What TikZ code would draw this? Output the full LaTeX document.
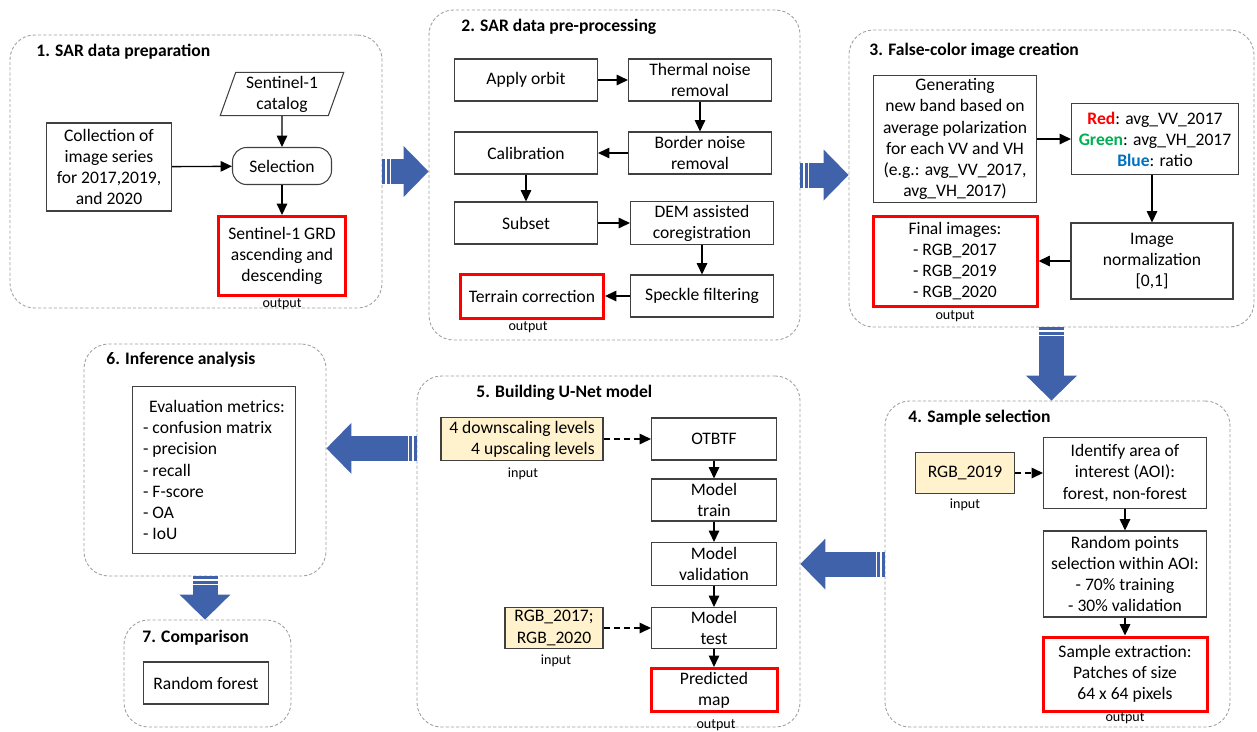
\documentclass[tikz,border=0pt]{standalone}
\usepackage{fontspec}
\setmainfont{Carlito}
\usepackage{tikz}
\usetikzlibrary{arrows.meta}
\usetikzlibrary{calc}
\usetikzlibrary{shapes.geometric}
\usetikzlibrary{decorations.markings}
\definecolor{arrowblue}{RGB}{64,98,170}
\definecolor{inputfill}{RGB}{255,242,204}
\definecolor{panelgray}{RGB}{160,160,160}
\definecolor{boxgray}{RGB}{64,64,64}
\definecolor{rgbgreen}{RGB}{0,176,80}
\definecolor{rgbblue}{RGB}{0,112,192}
\tikzset{
	sz/.style 2 args={minimum width=#1*0.02cm,minimum height=#2*0.02cm}
}
\tikzset{
	panel/.style={draw=panelgray,dash pattern=on 1.8pt off 1.2pt,line width=0.5pt,rounded corners=14pt}
}
\tikzset{
	box/.style={draw=boxgray,line width=0.6pt,align=center,inner sep=2pt,font=\fontsize{10}{12}\selectfont}
}
\tikzset{
	outbox/.style={box,draw=red,line width=1.7pt}
}
\tikzset{
	inbox/.style={box,fill=inputfill}
}
\tikzset{
	title/.style={anchor=west,inner sep=0pt,font=\bfseries\fontsize{10}{12}\selectfont}
}
\tikzset{
	note/.style={inner sep=0pt,font=\fontsize{8}{9}\selectfont}
}
\tikzset{
	flow/.style={line width=0.75pt,-{Triangle[length=6.5pt,width=6pt]}}
}
\tikzset{
	bigarrow/.style={draw=arrowblue,line width=0.5cm,-{Triangle[length=0.5cm,width=1.02cm,line width=0pt]},
		postaction={decorate,decoration={markings,
			mark=at position 0.07cm with {\fill[white] (-0.35pt,-0.26cm) rectangle (0.35pt,0.26cm);},
			mark=at position 0.16cm with {\fill[white] (-0.35pt,-0.26cm) rectangle (0.35pt,0.26cm);}}}}
}

\begin{document}
\begin{tikzpicture}[x=0.02cm,y=-0.02cm]
	\useasboundingbox (0,0) rectangle (1257,731);
	% panels
	\node[panel,sz={372}{273}] (P1) at (196,171.5) {};
	\node[panel,sz={371}{330}] (P2) at (614.5,175) {};
	\node[panel,sz={405}{297}] (P3) at (1051.5,178.5) {};
	\node[panel,sz={345}{326}] (P4) at (1057.5,564) {};
	\node[panel,sz={383}{351}] (P5) at (608.5,551.5) {};
	\node[panel,sz={242}{232}] (P6) at (205,460) {};
	\node[panel,sz={167}{107}] (P7) at (207.5,673.5) {};
	\node[title] (T1) at (36,52) {1. SAR data preparation};
	\node[title] (T2) at (461,27) {2. SAR data pre-processing};
	\node[title] (T3) at (869,51) {3. False-color image creation};
	\node[title] (T4) at (908,418) {4. Sample selection};
	\node[title] (T5) at (476,393) {5. Building U-Net model};
	\node[title] (T6) at (106,360) {6. Inference analysis};
	\node[title] (T7) at (142,638) {7. Comparison};
	% 1
	\node[box,trapezium,trapezium left angle=73,trapezium right angle=107,trapezium stretches=true,sz={124}{42}] (cat) at (282,94) {Sentinel-1\\catalog};
	\node[box,rounded corners=8pt,sz={99}{37}] (sel) at (282,166) {Selection};
	\node[box,sz={125}{88}] (coll) at (109,167) {Collection of\\image series\\for 2017,2019,\\and 2020};
	\node[outbox,sz={127}{79}] (grd) at (282,256) {Sentinel-1 GRD\\ascending and\\descending};
	\node[note] (o1) at (282,304) {output};
	% 2
	\node[box,sz={143}{42}] (orbit) at (526,80) {Apply orbit};
	\node[box,sz={143}{42}] (therm) at (700,80) {Thermal noise\\removal};
	\node[box,sz={143}{42}] (border) at (700,153) {Border noise\\removal};
	\node[box,sz={143}{42}] (calib) at (526,153) {Calibration};
	\node[box,sz={143}{42}] (subset) at (526,223) {Subset};
	\node[box,sz={143}{42}] (dem) at (702,223) {DEM assisted\\coregistration};
	\node[box,sz={143}{42}] (speckle) at (702,296) {Speckle filtering};
	\node[outbox,sz={143}{44}] (terrain) at (532,296) {Terrain correction};
	\node[note] (o2) at (528,327) {output};
	% 3
	\node[box,sz={163}{125}] (gen) at (955,139) {Generating\\new band based on\\average polarization\\for each VV and VH\\(e.g.: avg\_VV\_2017,\\avg\_VH\_2017)};
	\node[box,sz={167}{71}] (rgb) at (1155,139) {\textcolor{red}{\textbf{Red}}: avg\_VV\_2017\\\textcolor{rgbgreen}{\textbf{Green}}: avg\_VH\_2017\\\textcolor{rgbblue}{\textbf{Blue}}: ratio};
	\node[box,sz={162}{76}] (norm) at (1152,261) {Image\\normalization\\{[0,1]}};
	\node[outbox,sz={164}{90}] (final) at (955,261) {Final images:\\- RGB\_2017\\- RGB\_2019\\- RGB\_2020};
	\node[note] (o3) at (955,316) {output};
	% 4
	\node[inbox,sz={99}{41}] (in19) at (965,473) {RGB\_2019};
	\node[note] (i4) at (965,505) {input};
	\node[box,sz={163}{71}] (aoi) at (1125,473) {Identify area of\\interest (AOI):\\forest, non-forest};
	\node[box,sz={163}{86}] (rand) at (1125,574) {Random points\\selection within AOI:\\- 70\% training\\- 30\% validation};
	\node[outbox,sz={164}{74}] (extr) at (1125,674) {Sample extraction:\\Patches of size\\64 x 64 pixels};
	\node[note] (o4) at (1125,718) {output};
	% 5
	\node[inbox,align=right,sz={162}{42}] (levels) at (522,439) {4 downscaling levels\\4 upscaling levels};
	\node[note] (i5a) at (523,474) {input};
	\node[box,sz={125}{42}] (otbtf) at (714,439) {OTBTF};
	\node[box,sz={125}{42}] (train) at (714,500) {Model\\train};
	\node[box,sz={125}{43}] (valid) at (714,564) {Model\\validation};
	\node[box,sz={125}{41}] (test) at (714,628) {Model\\test};
	\node[inbox,sz={98}{41}] (rgbin) at (554,628) {RGB\_2017;\\RGB\_2020};
	\node[note] (i5b) at (556,661) {input};
	\node[outbox,sz={126}{43}] (pred) at (714,690) {Predicted\\map};
	\node[note] (o5) at (716,725) {output};
	% 6, 7
	\node[box,align=left,sz={163}{167}] (eval) at (214,470) {\hspace*{0.12cm}Evaluation metrics:\\- confusion matrix\\- precision\\- recall\\- F-score\\- OA\\- IoU};
	\node[box,sz={125}{42}] (rf) at (206,683) {Random forest};
	% small arrows
	\foreach \a/\b in {coll/sel,cat/sel,sel/grd,orbit/therm,therm/border,border/calib,calib/subset,subset/dem,dem/speckle,speckle/terrain,gen/rgb,norm/final,aoi/rand,rand/extr,otbtf/train,train/valid,valid/test,test/pred}
		\draw[flow] (\a) -- (\b);
	\draw[flow] (norm.north |- rgb.south) -- (norm.north);
	\foreach \a/\b in {in19/aoi,levels/otbtf,rgbin/test}
		\draw[flow,dash pattern=on 3.4pt off 2.3pt] (\a) -- (\b);
	% big arrows between the steps
	\coordinate (a56) at ($(P6.north east)!0.45!(P6.south east)$);
	\draw[bigarrow] (P1.east) -- (P1.east -| P2.west);
	\draw[bigarrow] (P2.east) -- (P2.east -| P3.west);
	\draw[bigarrow] (P3.south) -- (P3.south |- P4.north);
	\draw[bigarrow] (P4.west) -- (P4.west -| P5.east);
	\draw[bigarrow] (a56 -| P5.west) -- (a56);
	\draw[bigarrow] (P6.south) -- (P6.south |- P7.north);
\end{tikzpicture}
\end{document}
